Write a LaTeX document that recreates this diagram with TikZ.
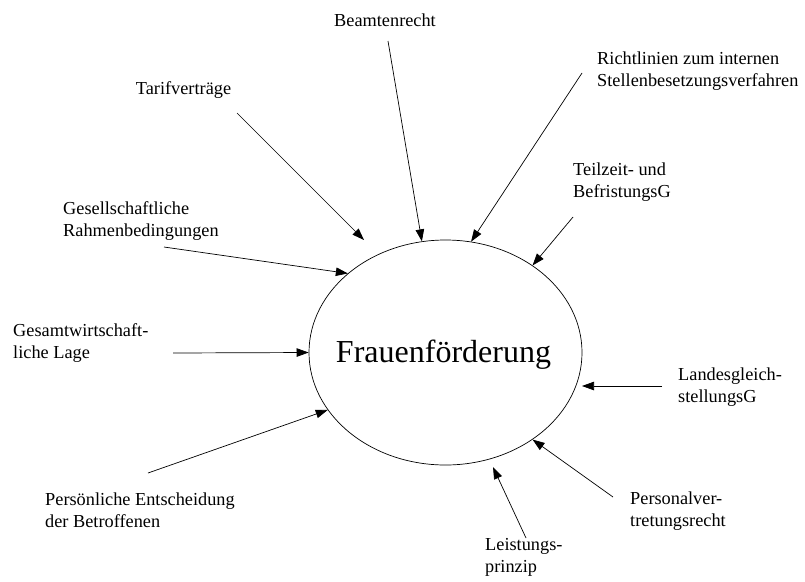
\documentclass[tikz,border=0pt]{standalone}
\usepackage{fontspec}
\setmainfont{Liberation Serif}
\usetikzlibrary{arrows.meta,shapes.geometric}
\tikzset{
  lbl/.style={inner sep=0pt, align=left, font=\fontsize{18.3}{22}\selectfont},
  infl/.style={-{Triangle[length=12pt,width=8.5pt]}, line width=0.7pt},
}
\begin{document}
\begin{tikzpicture}[x=1pt, y=-1pt]
   \useasboundingbox (0,0) rectangle (805,581);
   % centre
   \node[draw, ellipse, minimum width=273pt, minimum height=225pt, inner sep=0pt,
         line width=0.7pt] (ff) at (445.5,352.5) {};
   \node[inner sep=0pt, font=\fontsize{32}{36}\selectfont] (fftxt) at (443.5,355) {Frauenförderung};
   % labels
   \node[lbl] (beamt) at (385,20) {Beamtenrecht};
   \node[lbl] (tarif) at (183.5,90) {Tarifverträge};
   \node[lbl, anchor=west] (richt) at (597,71) {Richtlinien zum internen\\Stellenbesetzungsverfahren};
   \node[lbl, anchor=west] (teilz) at (573,182.5) {Teilzeit- und\\BefristungsG};
   \node[lbl, anchor=west] (gesell) at (63,221.5) {Gesellschaftliche\\Rahmenbedingungen};
   \node[lbl, anchor=west] (gesamt) at (13,343.5) {Gesamtwirtschaft-\\liche Lage};
   \node[lbl, anchor=west] (landes) at (678,387) {Landesgleich-\\stellungsG};
   \node[lbl, anchor=west] (persoen) at (45,510.5) {Persönliche Entscheidung\\der Betroffenen};
   \node[lbl, anchor=west] (persvt) at (630,511) {Personalver-\\tretungsrecht};
   \node[lbl, anchor=west] (leist) at (485,557.5) {Leistungs-\\prinzip};
   % arrow ends
   \coordinate (beamt-s) at (388,41);
   \coordinate (tarif-s) at (237,113);
   \coordinate (tarif-e) at (364,240);
   \coordinate (richt-s) at (582,73);
   \coordinate (teilz-s) at (573,217);
   \coordinate (gesell-s) at (164,247);
   \coordinate (gesamt-s) at (173,353);
   \coordinate (landes-s) at (662,386);
   \coordinate (landes-e) at (582,386);
   \coordinate (persoen-s) at (148,473);
   \coordinate (persvt-s) at (613,497);
   \coordinate (leist-s) at (526,538);
   \coordinate (leist-e) at (493,467);
   % arrows
   \draw[infl] (beamt-s) -- (ff.102.8);
   \draw[infl] (tarif-s) -- (tarif-e);
   \draw[infl] (richt-s) -- (ff.77.7);
   \draw[infl] (teilz-s) -- (ff.45);
   \draw[infl] (gesell-s) -- (ff.141.5);
   \draw[infl] (gesamt-s) -- (ff.180);
   \draw[infl] (landes-s) -- (landes-e);
   \draw[infl] (persoen-s) -- (ff.206.3);
   \draw[infl] (persvt-s) -- (ff.-45.6);
   \draw[infl] (leist-s) -- (leist-e);
\end{tikzpicture}
\end{document}
